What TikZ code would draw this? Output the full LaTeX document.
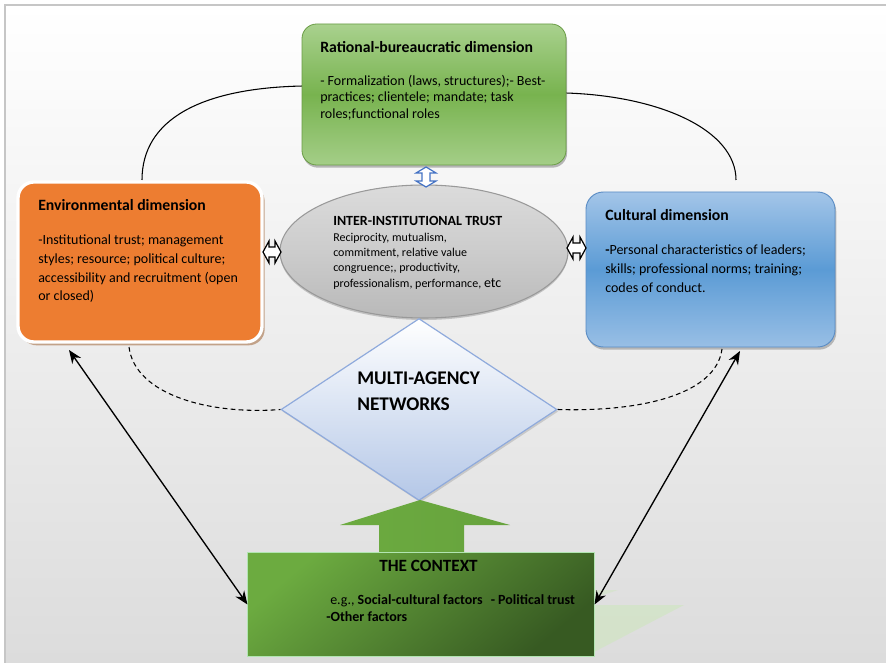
\documentclass[tikz,border=0pt]{standalone}
\usepackage{fontspec}
\setmainfont{Carlito}
\usetikzlibrary{shapes.geometric,shadows,calc,arrows.meta}
\definecolor{gTop}{HTML}{A9D18E}
\definecolor{gMid}{HTML}{78B34F}
\definecolor{gBorder}{HTML}{6A9C45}
\definecolor{orangeF}{HTML}{ED7D31}
\definecolor{orShadow}{HTML}{B89070}
\definecolor{bTop}{HTML}{A3C5E8}
\definecolor{bMid}{HTML}{5B9BD5}
\definecolor{bBorder}{HTML}{5A8CC4}
\definecolor{ctxA}{HTML}{6CAB40}
\definecolor{ctxB}{HTML}{375A22}
\definecolor{diaB}{HTML}{B4C7E7}
\definecolor{diaD}{HTML}{8FAADC}
\definecolor{arrBlue}{HTML}{4472C4}
\definecolor{bgBot}{HTML}{DCDCDC}
\definecolor{faintG}{HTML}{D2E4C6}
\newcommand{\uu}{0.75pt}
\tikzset{
  rbbox/.style={rectangle, rounded corners=11pt, draw=gBorder, line width=0.6pt,
    top color=gTop, bottom color=gTop!90!gMid, middle color=gMid,
    drop shadow={shadow xshift=0.8pt, shadow yshift=-2pt, opacity=0.55}, inner sep=0pt},
  envbox/.style={rectangle, rounded corners=12pt, draw=white, line width=2.5pt, fill=orangeF,
    drop shadow={shadow xshift=2pt, shadow yshift=-2.5pt, opacity=0.8, fill=orShadow}, inner sep=0pt},
  culbox/.style={rectangle, rounded corners=13pt, draw=bBorder, line width=0.7pt,
    top color=bTop, bottom color=bTop!85!bMid, middle color=bMid,
    drop shadow={shadow xshift=1pt, shadow yshift=-2pt, opacity=0.5}, inner sep=0pt},
  trustell/.style={ellipse, draw=gray!80, line width=0.8pt,
    top color=gray!28, bottom color=gray!55, middle color=gray!40, inner sep=0pt,
    drop shadow={shadow xshift=0pt, shadow yshift=-1.5pt, opacity=0.4}},
  netdia/.style={diamond, draw=diaD, line width=0.9pt, top color=white, bottom color=diaB,
    inner sep=0pt, drop shadow={shadow xshift=1pt, shadow yshift=-1.5pt, opacity=0.3}},
  ctxbox/.style={rectangle, draw=white!85!green, line width=0.8pt, inner sep=0pt},
  hollowarrow/.style={fill=white, line width=0.9pt, line join=miter},
  curveconn/.style={line width=0.8pt, black},
  dashconn/.style={line width=0.8pt, black, dash pattern=on 3.5pt off 2.5pt},
  bothconn/.style={line width=1pt, black, {Stealth[length=10pt,width=8pt]}-{Stealth[length=10pt,width=8pt]}},
  titletxt/.style={anchor=north west, inner sep=0pt, font=\fontsize{11.8}{14}\selectfont\bfseries},
  bodytxt/.style={anchor=north west, inner sep=0pt, align=left},
}
\begin{document}
\begin{tikzpicture}[x=0.75pt,y=-0.75pt]
\useasboundingbox (0,0) rectangle (886,663);
\fill[white] (0,0) rectangle (886,663);
\shade[top color=white, bottom color=bgBot] (5,5) rectangle (886,662);
\draw[gray!45, line width=1pt] (5,663) -- (5,5) -- (886,5);

% connectors behind the boxes
\coordinate (lcA) at (142,180);
\coordinate (lcB) at (303,86);
\coordinate (rcA) at (566,93);
\coordinate (rcB) at (736,180);
\draw[curveconn] (lcA) .. controls (142,120) and (200,88) .. (lcB);
\draw[curveconn] (rcA) .. controls (660,96) and (736,130) .. (rcB);

% Rational-bureaucratic dimension
\node[rbbox, minimum width=264*\uu, minimum height=141*\uu] (rb) at (434,94.5) {};
\node[titletxt] (rbt) at (320,41) {Rational-bureaucratic dimension};
\node[bodytxt, font=\fontsize{10.5}{12.4}\selectfont] (rbb) at (320,74.5) {- Formalization (laws, structures);- Best-\\practices; clientele; mandate; task\\roles;functional roles};

% Environmental dimension
\node[envbox, minimum width=244*\uu, minimum height=160*\uu] (env) at (140,262) {};
\node[titletxt] (envt) at (38,199) {Environmental dimension};
\node[bodytxt, font=\fontsize{10.5}{14}\selectfont] (envb) at (38,235) {-Institutional trust; management\\styles; resource; political culture;\\accessibility and recruitment (open\\or closed)};

% Cultural dimension
\node[culbox, minimum width=249*\uu, minimum height=155*\uu] (cul) at (710.5,269.5) {};
\node[titletxt] (cult) at (605,209) {Cultural dimension};
\node[bodytxt, font=\fontsize{10.5}{14.2}\selectfont] (culb) at (605,245) {\textbf{-}Personal characteristics of leaders;\\skills; professional norms; training;\\codes of conduct.};

% Inter-institutional trust
\node[trustell, minimum width=288*\uu, minimum height=133*\uu] (trust) at (424,251.5) {};
\node[titletxt, font=\fontsize{10.5}{12}\selectfont\bfseries] (trustt) at (333,216) {INTER-INSTITUTIONAL TRUST};
\node[bodytxt, font=\fontsize{9}{11.5}\selectfont] (trustb) at (333,232.5) {Reciprocity, mutualism,\\commitment, relative value\\congruence;, productivity,\\professionalism, performance, {\fontsize{10.5}{11.5}\selectfont etc}};

% hollow double arrows
\draw[hollowarrow, draw=arrBlue] (426,167) -- (436,173) -- (430,173) -- (430,181) -- (436,181) -- (426,187) -- (416,181) -- (422,181) -- (422,173) -- (416,173) -- cycle;
\draw[hollowarrow, draw=black] (263,252) -- (269,241) -- (269,247) -- (275,247) -- (275,241) -- (281,252) -- (275,263) -- (275,257) -- (269,257) -- (269,263) -- cycle;
\draw[hollowarrow, draw=black] (567,248) -- (573,237) -- (573,243) -- (580,243) -- (580,237) -- (586,248) -- (580,259) -- (580,253) -- (573,253) -- (573,259) -- cycle;

% Multi-agency networks
\node[netdia, minimum width=276*\uu, minimum height=182*\uu] (net) at (419,409.5) {};
\node[bodytxt, font=\fontsize{14.5}{19.5}\selectfont\bfseries] (nett) at (357,372) {MULTI-AGENCY\\NETWORKS};

% dashed connectors
\coordinate (dlA) at (129,347);
\coordinate (drB) at (722,349);
\draw[dashconn] (dlA) .. controls (135,395) and (210,415) .. (net.west);
\draw[dashconn] (net.east) .. controls (640,412) and (716,395) .. (drB);

% the context
\fill[faintG, opacity=0.8] (594,605) -- (684,605) -- (594,652) -- cycle;
\fill[faintG, opacity=0.6] (594,590) -- (618,590) -- (594,598) -- cycle;
\shade[left color=ctxA, right color=ctxA!90!ctxB] (379,554) -- (379,525) -- (340,525) -- (420,500) -- (510,525) -- (464,525) -- (464,554) -- cycle;
\node[ctxbox, minimum width=346*\uu, minimum height=103*\uu] (ctx) at (421,604.5) {};
\shade[top color=ctxA, bottom color=ctxB, shading angle=40] (ctx.north west) rectangle (ctx.south east);
\draw[white!75!green!80!gray, line width=0.8pt] (ctx.north west) rectangle (ctx.south east);
\node[titletxt, font=\fontsize{12.9}{14}\selectfont\bfseries] (ctxt) at (379,560) {THE CONTEXT};
\node[bodytxt, font=\fontsize{10.5}{12.5}\selectfont] (ctxb) at (326,594.5) {\hspace{3pt}e.g., \textbf{Social-cultural factors}\hspace{6pt}\textbf{- Political trust}\\\textbf{-Other factors}};

% double-headed arrows to the context
\coordinate (ea) at (69,350);
\coordinate (ca) at (740,351);
\draw[bothconn] (ea) -- (ctx.west);
\draw[bothconn] (ca) -- (ctx.east);
\end{tikzpicture}
\end{document}
